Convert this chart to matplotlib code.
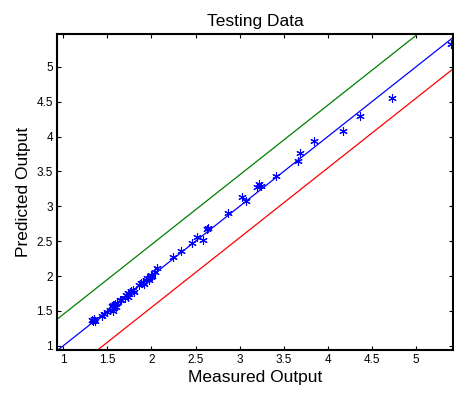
import matplotlib
matplotlib.use('Agg')
import matplotlib.pyplot as plt
import numpy as np

plt.rcParams['font.family'] = ['Liberation Sans', 'DejaVu Sans']

# measured vs predicted values
measured = [1.33, 1.34, 1.35, 1.36, 1.44, 1.46, 1.50, 1.53, 1.55, 1.56, 1.57,
            1.58, 1.59, 1.60, 1.61, 1.64, 1.66, 1.70, 1.71, 1.73, 1.74, 1.75,
            1.77, 1.79, 1.80, 1.86, 1.88, 1.90, 1.92, 1.94, 1.95, 1.97, 1.99,
            2.00, 2.01, 2.04, 2.06, 2.24, 2.34, 2.46, 2.52, 2.58, 2.63, 2.64,
            2.87, 3.03, 3.07, 3.20, 3.22, 3.24, 3.41, 3.66, 3.69, 3.84, 4.17,
            4.36, 4.73, 5.40]
predicted = [1.37, 1.35, 1.39, 1.36, 1.43, 1.45, 1.48, 1.52, 1.57, 1.50, 1.59,
             1.54, 1.60, 1.56, 1.62, 1.65, 1.66, 1.69, 1.73, 1.76, 1.70, 1.74,
             1.78, 1.80, 1.77, 1.87, 1.90, 1.92, 1.89, 1.95, 1.97, 1.94, 2.01,
             1.98, 2.00, 2.06, 2.12, 2.27, 2.36, 2.47, 2.56, 2.51, 2.68, 2.69,
             2.90, 3.14, 3.08, 3.27, 3.32, 3.29, 3.44, 3.65, 3.76, 3.94, 4.08,
             4.30, 4.55, 5.33]
band = 0.45
x_range = [0.93, 5.42]
y_range = [0.94, 5.47]
x_ticks = [1, 1.5, 2, 2.5, 3, 3.5, 4, 4.5, 5]
y_ticks = [1, 1.5, 2, 2.5, 3, 3.5, 4, 4.5, 5]

fig = plt.figure(figsize=(4.54, 3.94), dpi=100)
ax = fig.add_axes([0.1256, 0.1117, 0.8724, 0.802])

ax.plot(measured, predicted, linestyle='none', marker=(6, 2, 0),
        color='#0000ff', markersize=6, markeredgewidth=0.8)
line_x = np.array(x_range)
ax.plot(line_x, line_x, color='#0000ff', linewidth=0.9)
ax.plot(line_x, line_x + band, color='#008000', linewidth=0.9)
ax.plot(line_x, line_x - band, color='#ff0000', linewidth=0.9)

ax.set_xlim(x_range)
ax.set_ylim(y_range)
ax.set_xticks(x_ticks)
ax.set_yticks(y_ticks)
ax.set_xticklabels([f'{t:g}' for t in x_ticks])
ax.set_yticklabels([f'{t:g}' for t in y_ticks])
ax.tick_params(direction='in', length=3, width=0.8, labelsize=8.5,
               top=True, right=True, pad=3)
for s in ax.spines.values():
    s.set_linewidth(1.5)

ax.set_title('Testing Data', fontsize=12.5, pad=6)
ax.set_xlabel('Measured Output', fontsize=12.5, labelpad=3)
ax.set_ylabel('Predicted Output', fontsize=12.5, labelpad=4)

fig.savefig('out.png', dpi=100)
